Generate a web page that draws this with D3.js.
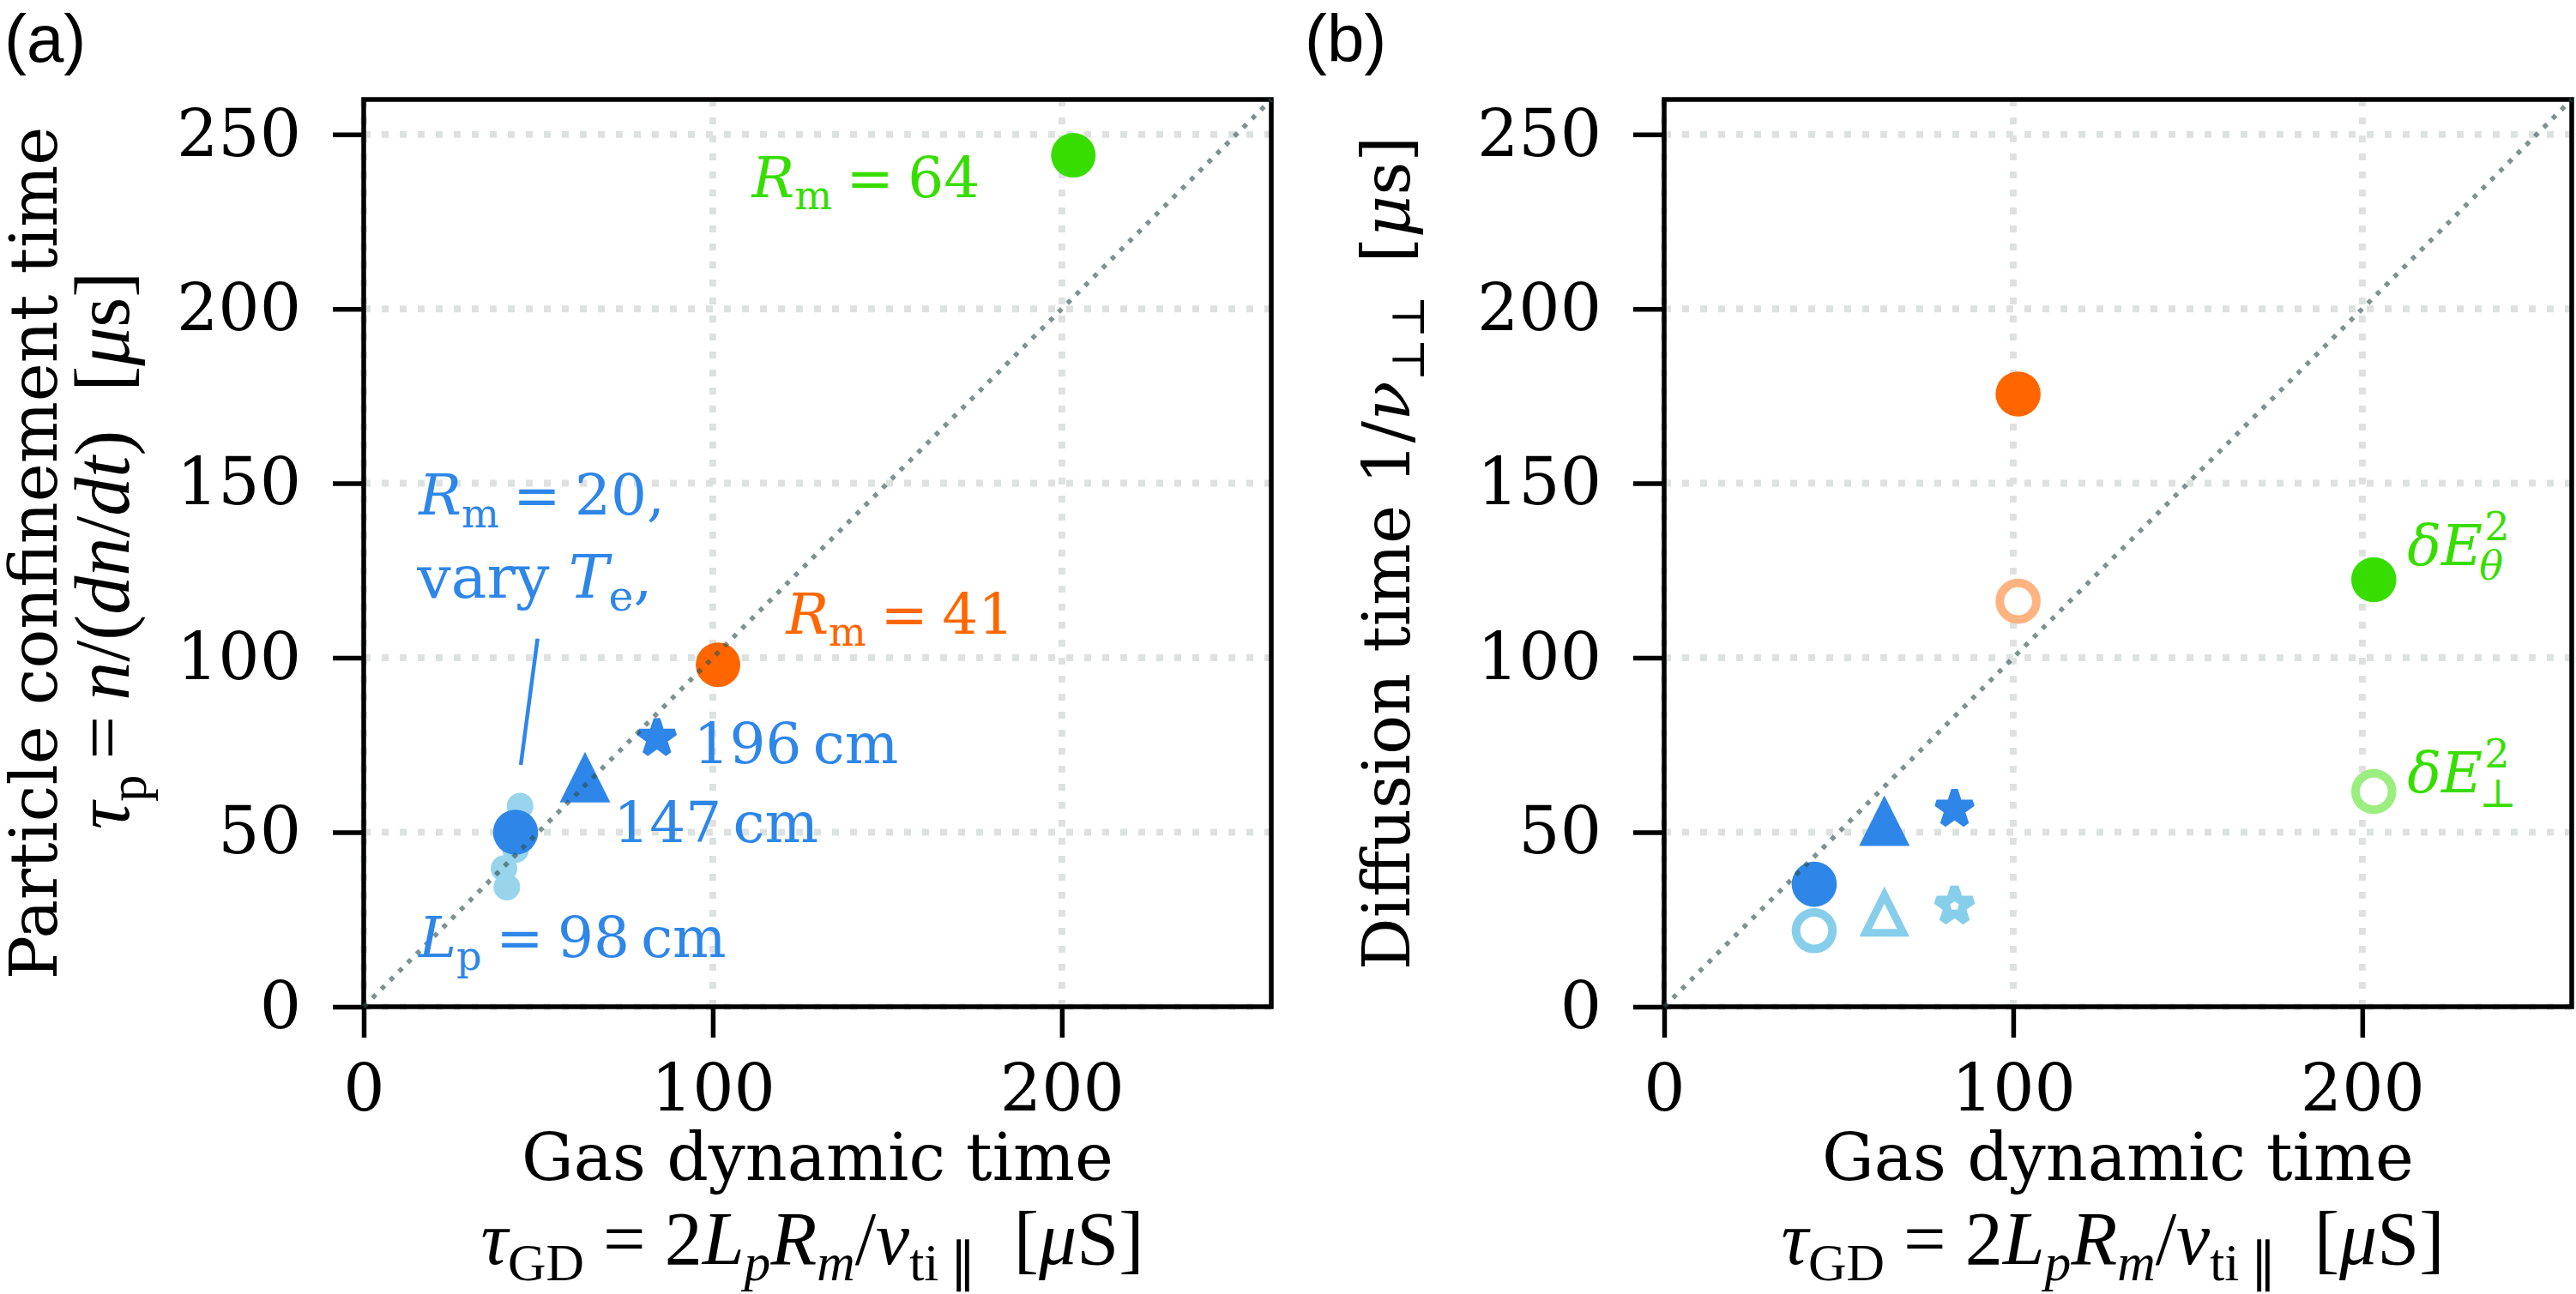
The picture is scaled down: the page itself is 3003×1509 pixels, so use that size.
<!DOCTYPE html>
<html>
<head>
<meta charset="utf-8">
<script src="https://cdn.jsdelivr.net/npm/d3@7"></script>
<style>
  body { margin: 0; background: #fff; }
  svg { display: block; }
</style>
</head>
<body>
<svg id="fig" width="3003" height="1509"></svg>
<script>
// ---- data (microseconds) ----
const axisMax = 260;
const xTicks = [0, 100, 200];
const yTicks = [0, 50, 100, 150, 200, 250];

// panel (a): Rm = 20 series at three plasma lengths
const lengthShapes = ["circle", "triangle", "star"];
const lengthLabels = ["98 cm", "147 cm", "196 cm"];
const tauGD_len = [43.5, 63.4, 84.0];
const tauP_len = [50.0, 65.8, 77.0];
// panel (a): Rm = 20, Te scan (small light points)
const tauGD_Te = [44.8, 43.5, 40.2, 41.0];
const tauP_Te = [57.5, 45.0, 39.6, 34.3];
// panel (a): other mirror ratios
const mirrorRatios = [41, 64];
const tauGD_Rm = [101.5, 203.3];
const tauP_Rm = [98.0, 244.0];

// panel (b): diffusion times from dE_theta^2 (filled) and dE_perp^2 (open)
const tauGD_b_len = [43.0, 63.1, 83.2];
const diffTheta_len = [35.1, 53.3, 56.7];
const diffPerp_len = [21.8, 26.6, 28.9];
const tauGD_b_Rm = [101.4, 203.3];
const diffTheta_Rm = [175.6, 122.4];
const diffPerp_Rm = [116.2, 61.7];

// ---- style ----
const blue = "#2e86e8", lightBlue = "#87ceeb";
const orange = "#ff6600", lightOrange = "#ffb380";
const green = "#38dd00", lightGreen = "#9cee80";
const serif = "DejaVu Serif";
const mathSerif = "Liberation Serif";
const tickFs = 76, labelFs = 76, annFs = 66;

const svg = d3.select("#fig");
const plotSize = 1058;
const plotTop = 116;

function rich(sel, parts, fs, family) {
    // parts: [text, kind]  kind = r | i | subr | subi
    let shift = 0;
    parts.forEach(([txt, kind]) => {
        const isSub = kind.startsWith("sub");
        const target = isSub ? 0.22 * fs : 0;
        sel.append("tspan")
            .text(txt)
            .attr("dy", target - shift)
            .attr("font-family", family || serif)
            .attr("font-size", isSub ? fs * 0.7 : fs)
            .attr("font-style", kind.endsWith("i") ? "italic" : "normal");
        shift = target;
    });
    return sel;
}

function note(g, x, y, color, parts, fs) {
    const t = g.append("text")
        .attr("x", x).attr("y", y)
        .attr("fill", color);
    return rich(t, parts, fs || annFs);
}

function trianglePath(h) {
    return `M0,${-h}L${h},${h}L${-h},${h}Z`;
}
const starPath = d3.symbol().type(d3.symbolStar).size(22 * 22 / 0.8908130915292852)();

function drawMarker(g, shape, cx, cy, fill, open) {
    if (shape === "circle") {
        g.append("circle").attr("cx", cx).attr("cy", cy)
            .attr("r", open ? 21.3 : 26.3)
            .attr("fill", open ? "#fff" : fill)
            .attr("stroke", open ? fill : "none")
            .attr("stroke-width", open ? 10 : 0);
    } else if (shape === "triangle") {
        g.append("path").attr("d", trianglePath(open ? 22 : 29.5))
            .attr("transform", `translate(${cx},${cy})`)
            .attr("fill", open ? "#fff" : fill)
            .attr("stroke", open ? fill : "none")
            .attr("stroke-width", open ? 9 : 0)
            .attr("stroke-linejoin", "miter");
    } else {
        g.append("path").attr("d", starPath)
            .attr("transform", `translate(${cx},${cy})`)
            .attr("fill", open ? "#fff" : fill)
            .attr("stroke", fill)
            .attr("stroke-width", open ? 10 : 8)
            .attr("stroke-linejoin", "bevel");
    }
}

function makePanel(left, tag) {
    const x = d3.scaleLinear().domain([0, axisMax]).range([left, left + plotSize]);
    const y = d3.scaleLinear().domain([0, axisMax]).range([plotTop + plotSize, plotTop]);
    const g = svg.append("g");

    // grid
    const grid = g.append("g").attr("stroke", "#dde1e0").attr("stroke-width", 8)
        .attr("stroke-dasharray", "8,13");
    xTicks.forEach(v => grid.append("line")
        .attr("x1", x(v)).attr("x2", x(v)).attr("y1", y(0)).attr("y2", y(axisMax)));
    yTicks.forEach(v => grid.append("line")
        .attr("x1", x(0)).attr("x2", x(axisMax)).attr("y1", y(v)).attr("y2", y(v)));

    // axes
    const ax = d3.axisBottom(x).tickValues(xTicks).tickSize(36).tickPadding(31);
    const ay = d3.axisLeft(y).tickValues(yTicks).tickSize(36).tickPadding(37);
    [g.append("g").attr("transform", `translate(0,${y(0)})`).call(ax),
     g.append("g").attr("transform", `translate(${x(0)},0)`).call(ay)].forEach(a => {
        a.select(".domain").remove();
        a.selectAll(".tick line").attr("stroke", "#000").attr("stroke-width", 5.5);
        a.selectAll(".tick text").attr("font-family", serif).attr("font-size", tickFs)
            .attr("fill", "#000");
    });
    g.append("rect").attr("x", x(0)).attr("y", y(axisMax))
        .attr("width", plotSize).attr("height", plotSize)
        .attr("fill", "none").attr("stroke", "#000").attr("stroke-width", 5.5);

    // x label
    const cx = x(axisMax / 2);
    g.append("text").attr("x", cx).attr("y", 1376).attr("text-anchor", "middle")
        .attr("font-family", serif).attr("font-size", labelFs).text("Gas dynamic time");
    rich(g.append("text").attr("x", cx - 6).attr("y", 1474).attr("text-anchor", "middle"), [
        ["\u03c4", "i"], ["GD", "subr"], ["\u2005=\u20052", "r"], ["L", "i"], ["p", "subi"],
        ["R", "i"], ["m", "subi"], ["/", "r"], ["v", "i"], ["ti\u2009\u2225", "subr"],
        ["\u2002[", "r"], ["\u03bc", "i"], ["S]", "r"]
    ], 88, mathSerif);

    // panel tag
    svg.append("text").attr("x", left - 419).attr("y", 72)
        .attr("font-family", "Liberation Sans").attr("font-size", 78).text(tag);

    return { g, x, y };
}

function diagonal(p) {
    p.g.append("line")
        .attr("x1", p.x(0)).attr("y1", p.y(0))
        .attr("x2", p.x(axisMax)).attr("y2", p.y(axisMax))
        .attr("stroke", "#2f4f4f").attr("stroke-opacity", 0.62)
        .attr("stroke-width", 5.5).attr("stroke-dasharray", "5.5,9");
}

// ================= panel (a) =================
const pa = makePanel(424, "(a)");
{
    pa.g.append("text").attr("transform", "translate(66,645) rotate(-90)")
        .attr("text-anchor", "middle").attr("font-family", serif).attr("font-size", labelFs)
        .text("Particle confinement time");
    rich(pa.g.append("text").attr("transform", "translate(150,642) rotate(-90)")
        .attr("text-anchor", "middle"), [
        ["\u03c4", "i"], ["p", "subr"], ["\u2009=\u2009", "r"], ["n", "i"], ["/(", "r"],
        ["dn", "i"], ["/", "r"], ["dt", "i"], [")\u2002[", "r"], ["\u03bc", "i"], ["s]", "r"]
    ], 90, mathSerif);

    const { g, x, y } = pa;
    // leader line for the Te scan
    g.append("line").attr("x1", x(49.8)).attr("y1", y(105.5))
        .attr("x2", x(45)).attr("y2", y(69.3))
        .attr("stroke", blue).attr("stroke-width", 4.5);

    const te = g.append("g").attr("opacity", 0.85);
    tauGD_Te.forEach((v, i) => te.append("circle")
        .attr("cx", x(v)).attr("cy", y(tauP_Te[i])).attr("r", 15.5).attr("fill", lightBlue));

    tauGD_len.forEach((v, i) => drawMarker(g, lengthShapes[i], x(v), y(tauP_len[i]), blue, false));
    const rmColors = [orange, green];
    tauGD_Rm.forEach((v, i) => g.append("circle")
        .attr("cx", x(v)).attr("cy", y(tauP_Rm[i])).attr("r", 26).attr("fill", rmColors[i]));
    diagonal(pa);

    note(g, x(111.2), y(232), green, [["R", "i"], ["m", "subr"], ["\u2005=\u2005" + mirrorRatios[1], "r"]]);
    note(g, x(121), y(107), orange, [["R", "i"], ["m", "subr"], ["\u2005=\u2005" + mirrorRatios[0], "r"]]);
    note(g, x(15.8), y(141), blue, [["R", "i"], ["m", "subr"], ["\u2005=\u200520,", "r"]]);
    note(g, x(15.3), y(117.3), blue, [["vary ", "r"], ["T", "i"], ["e", "subr"], [",", "r"]], 70);
    note(g, x(94.5), y(69.7), blue, [[lengthLabels[2].replace(" ", "\u2009"), "r"]]);
    note(g, x(71.6), y(47.2), blue, [[lengthLabels[1].replace(" ", "\u2009"), "r"]]);
    note(g, x(15.8), y(14.2), blue, [["L", "i"], ["p", "subr"],
        ["\u2005=\u2005" + lengthLabels[0].replace(" ", "\u2009"), "r"]]);
}

// ================= panel (b) =================
const pb = makePanel(1940, "(b)");
{
    rich(pb.g.append("text").attr("transform", "translate(1643,645) rotate(-90)")
        .attr("text-anchor", "middle"), [
        ["Diffusion time 1/", "r"], ["\u03bd", "i"], ["\u22a5\u22a5", "subr"],
        ["\u2002[", "r"], ["\u03bc", "i"], ["s]", "r"]
    ], labelFs);

    const { g, x, y } = pb;
    tauGD_b_len.forEach((v, i) => {
        drawMarker(g, lengthShapes[i], x(v), y(diffTheta_len[i]), blue, false);
        drawMarker(g, lengthShapes[i], x(v), y(diffPerp_len[i]), lightBlue, true);
    });
    const full = [orange, green], light = [lightOrange, lightGreen];
    tauGD_b_Rm.forEach((v, i) => {
        drawMarker(g, "circle", x(v), y(diffTheta_Rm[i]), full[i], false);
        drawMarker(g, "circle", x(v), y(diffPerp_Rm[i]), light[i], true);
    });
    diagonal(pb);

    // dE^2 labels: superscript 2 stacked over the subscript
    function fieldLabel(dx, dy, sub) {
        const lab = g.append("text").attr("x", x(dx)).attr("y", y(dy))
            .attr("font-family", serif).attr("font-size", annFs)
            .attr("font-style", "italic").attr("fill", green);
        lab.append("tspan").text("\u03b4E");
        const w = lab.node().getComputedTextLength();
        lab.append("tspan").attr("x", x(dx) + w + 2).attr("dy", -0.44 * annFs)
            .attr("font-size", annFs * 0.7).attr("font-style", "normal").text("2");
        lab.append("tspan").attr("x", x(dx) + w - 4).attr("dy", 0.70 * annFs)
            .attr("font-size", annFs * 0.7)
            .attr("font-style", sub === "\u03b8" ? "italic" : "normal").text(sub);
    }
    fieldLabel(212.9, 126.5, "\u03b8");
    fieldLabel(212.9, 61.5, "\u22a5");
}
</script>
</body>
</html>
